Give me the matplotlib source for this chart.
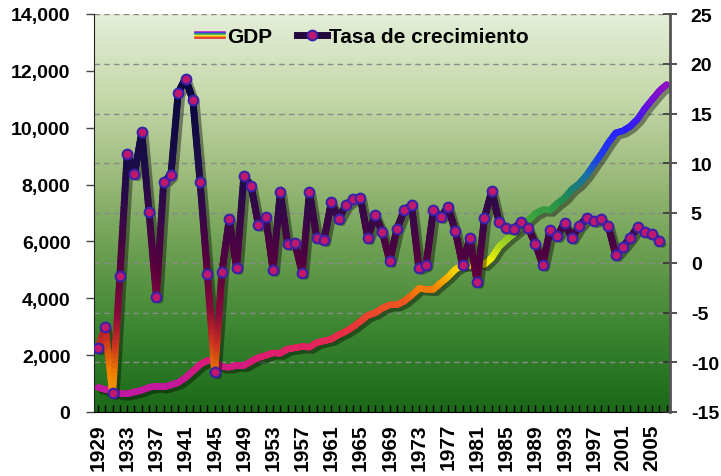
import numpy as np
import matplotlib
matplotlib.use("Agg")
import matplotlib.pyplot as plt
from matplotlib.collections import LineCollection
from matplotlib.colors import LinearSegmentedColormap, Normalize
from matplotlib.lines import Line2D
from matplotlib.legend_handler import HandlerBase
from matplotlib.transforms import offset_copy

plt.rcParams['font.family'] = ['Liberation Sans', 'DejaVu Sans']
plt.rcParams['font.weight'] = 'bold'
FONT = 'Liberation Sans'

# Real GDP (billions of chained dollars), 1929-2007
years = np.arange(1929, 2008)
gdp = [865.2, 790.7, 739.9, 643.7, 635.5, 704.2, 766.9, 866.6, 911.1, 879.7,
       950.7, 1034.1, 1211.1, 1435.4, 1670.9, 1806.5, 1786.3, 1589.4, 1574.5, 1643.2,
       1634.6, 1777.3, 1915.0, 1988.3, 2079.5, 2065.4, 2212.8, 2255.8, 2301.1, 2279.2,
       2441.3, 2501.8, 2560.0, 2715.2, 2834.0, 2998.6, 3191.1, 3399.1, 3484.6, 3652.7,
       3765.4, 3771.9, 3898.6, 4105.0, 4341.5, 4319.6, 4311.2, 4540.9, 4750.5, 5015.0,
       5173.4, 5161.7, 5291.7, 5189.3, 5423.8, 5813.6, 6053.7, 6263.6, 6475.1, 6742.7,
       6981.4, 7112.5, 7100.5, 7336.6, 7532.7, 7835.5, 8031.7, 8328.9, 8703.5, 9066.9,
       9470.3, 9817.0, 9890.7, 10048.8, 10301.0, 10675.8, 10989.5, 11294.8, 11523.9]

# Tasa de crecimiento (%), as placed on the chart (starts at the 1929 slot)
growth_years = np.arange(1929, 2007)
growth = [-8.6, -6.5, -13.1, -1.3, 10.9, 8.9, 13.1, 5.1, -3.4, 8.1,
          8.8, 17.1, 18.5, 16.4, 8.1, -1.1, -11.0, -0.9, 4.4, -0.5,
          8.7, 7.7, 3.8, 4.6, -0.7, 7.1, 1.9, 2.0, -1.0, 7.1,
          2.5, 2.3, 6.1, 4.4, 5.8, 6.4, 6.5, 2.5, 4.8, 3.1,
          0.2, 3.4, 5.3, 5.8, -0.5, -0.2, 5.3, 4.6, 5.6, 3.2,
          -0.2, 2.5, -1.9, 4.5, 7.2, 4.1, 3.5, 3.4, 4.1, 3.5,
          1.9, -0.2, 3.3, 2.7, 4.0, 2.5, 3.7, 4.5, 4.2, 4.4,
          3.7, 0.8, 1.6, 2.5, 3.6, 3.1, 2.9, 2.2]

xtick_years = np.arange(1929, 2006, 4)
left_ticks = np.arange(0, 14001, 2000)
right_ticks = np.arange(-15, 26, 5)

gdp_cmap = LinearSegmentedColormap.from_list("gdp", [
    (0.0, '#c018a8'), (1000 / 14000, '#c4189c'), (2000 / 14000, '#de1c70'),
    (3000 / 14000, '#e8343c'), (4000 / 14000, '#f05a1c'), (4500 / 14000, '#f49000'),
    (5000 / 14000, '#f8d000'), (5400 / 14000, '#eef000'), (6000 / 14000, '#a4d420'),
    (6800 / 14000, '#44a838'), (7600 / 14000, '#208a50'), (8400 / 14000, '#1870a8'),
    (9000 / 14000, '#1e40ea'), (10000 / 14000, '#2a20ff'), (11000 / 14000, '#7010d8'),
    (12000 / 14000, '#a810b8'), (1.0, '#b010b0')])

gr_cmap = LinearSegmentedColormap.from_list("growth", [
    (0.0, '#ffb000'), (0.1, '#f08000'), (0.175, '#c83020'), (0.25, '#8a0a3a'),
    (0.375, '#55003f'), (0.5, '#360848'), (0.625, '#1a0c48'), (0.875, '#06063a'),
    (1.0, '#050530')])


def gradient_line(ax, x, y, cmap, vmin, vmax, lw, zorder):
    # split each segment in small pieces so the colour follows the height
    xs, ys = [], []
    for i in range(len(x) - 1):
        t = np.linspace(0, 1, 25, endpoint=False)
        xs.append(x[i] + (x[i + 1] - x[i]) * t)
        ys.append(y[i] + (y[i + 1] - y[i]) * t)
    xs = np.concatenate(xs + [[x[-1]]])
    ys = np.concatenate(ys + [[y[-1]]])
    pts = np.column_stack([xs, ys]).reshape(-1, 1, 2)
    segs = np.concatenate([pts[:-1], pts[1:]], axis=1)
    lc = LineCollection(segs, cmap=cmap, norm=Normalize(vmin, vmax),
                        linewidths=lw, capstyle='round', joinstyle='round', zorder=zorder)
    lc.set_array((ys[:-1] + ys[1:]) / 2)
    ax.add_collection(lc)
    # soft shadow
    sh = offset_copy(ax.transData, fig=ax.figure, x=2.5, y=-2.5, units='points')
    ax.plot(xs, ys, color='black', alpha=0.4, lw=lw, transform=sh,
            solid_capstyle='round', zorder=zorder - 0.5)


fig = plt.figure(figsize=(7.21, 4.77), dpi=100)
ax = fig.add_axes([94 / 721, 1 - 413 / 477, 576 / 721, 398 / 477])
ax.set_xlim(1928.45, 2007.45)
ax.set_ylim(0, 14000)

# background gradient
bg = LinearSegmentedColormap.from_list("bg", [
    (0.0, '#1a6818'), (0.2, '#3a8430'), (0.4, '#6a9e50'), (0.6, '#9dbc7c'),
    (0.8, '#c6d9ac'), (1.0, '#e4eed8')])
ax.imshow(np.linspace(0, 1, 256).reshape(-1, 1), cmap=bg, origin='lower', aspect='auto',
          extent=(1928.45, 2007.45, 0, 14000), zorder=0)

# dashed gridlines at the right-axis ticks
for r in right_ticks[1:]:
    ax.axhline((r + 15) / 40 * 14000, color='#8a8a8a', lw=1, ls=(0, (4, 3)), zorder=1)

gradient_line(ax, years, np.array(gdp), gdp_cmap, 0, 14000, 4.5, 3)

ax2 = ax.twinx()
ax2.set_ylim(-15, 25)
ax2.patch.set_visible(False)
gradient_line(ax2, growth_years, np.array(growth), gr_cmap, -15, 25, 5.0, 3)
ax2.plot(growth_years, growth, ls='none', marker='o', ms=7, mfc='#c0186c',
         mec='#3a22a8', mew=1.5, zorder=4)

# axes styling
ax.set_yticks(left_ticks)
ax.set_yticklabels([f"{v:,}" for v in left_ticks], fontsize=14, fontweight='bold',
                   family=FONT)
ax.tick_params(axis='y', direction='out', length=6, width=1, pad=11, color='#444444')
ax.set_xticks(xtick_years)
ax.set_xticklabels([str(y) for y in xtick_years], rotation=90, fontsize=15,
                   fontweight='bold', family=FONT)
ax.set_xticks(years, minor=True)
ax.tick_params(axis='x', which='both', direction='in', length=5, width=1, pad=8)

ax2.set_yticks(right_ticks)
ax2.set_yticklabels([str(v) for v in right_ticks], fontsize=14, fontweight='bold',
                    family=FONT)
ax2.tick_params(axis='y', direction='inout', length=10, width=1.2, color='#333333', pad=10)

for a in (ax, ax2):
    a.spines['top'].set_visible(False)
ax.spines['left'].set_color('#222222')
ax.spines['bottom'].set_color('black')
ax2.spines['right'].set_color('#555555')
ax2.spines['right'].set_linewidth(2)
ax2.spines['left'].set_visible(False)
ax2.spines['bottom'].set_visible(False)


# legend
class Rainbow:
    pass


class RainbowHandler(HandlerBase):
    def create_artists(self, legend, orig_handle, xdescent, ydescent, width, height,
                       fontsize, trans):
        cols = ['#b010c0', '#2a30ff', '#30a040', '#f0e000', '#f49000', '#e82020']
        arts = []
        for i, c in enumerate(cols):
            y = height / 2 + (len(cols) / 2 - i - 0.5) * 0.95
            arts.append(Line2D([-xdescent, width - xdescent], [y, y], color=c,
                               lw=1.1, transform=trans))
        return arts


gr_handle = Line2D([], [], color='#24083c', lw=5, marker='o', ms=7, mfc='#c0186c',
                   mec='#3a22a8', mew=1.5)
ax2.legend([Rainbow(), gr_handle], ['GDP', 'Tasa de crecimiento'],
           handler_map={Rainbow: RainbowHandler()}, loc='center',
           bbox_to_anchor=(0.465, 0.943), ncol=2, frameon=False,
           prop={'family': FONT, 'weight': 'bold', 'size': 15},
           handlelength=1.45, handletextpad=0.1, columnspacing=1.2)

fig.savefig('out.png', dpi=100)
